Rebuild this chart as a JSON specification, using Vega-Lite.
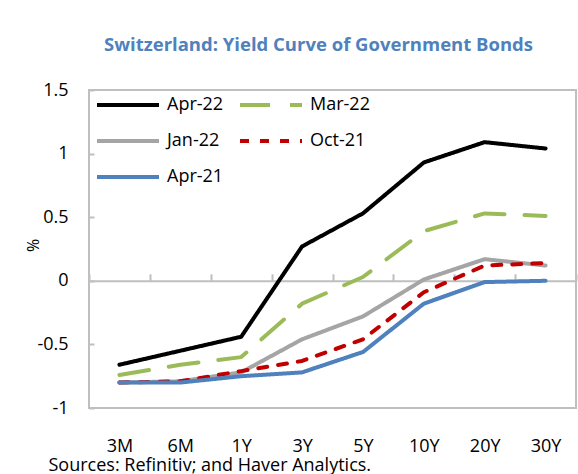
{
  "$schema": "https://vega.github.io/schema/vega-lite/v6.json",
  "width": 487,
  "height": 318,
  "autosize": {"type": "none"},
  "padding": {"left": 89, "top": 90, "right": 2, "bottom": 66},
  "background": "white",
  "title": {
    "text": "Switzerland: Yield Curve of Government Bonds",
    "color": "#4F81BD",
    "font": "Open Sans",
    "fontSize": 18.5,
    "fontWeight": "bold",
    "anchor": "middle",
    "offset": 27,
    "dx": -14
  },
  "config": {
    "view": {"stroke": "#BFBFBF", "strokeWidth": 2},
    "font": "Open Sans"
  },
  "data": {
    "values": [
      {"tenor": "3M", "series": "Apr-22", "yield": -0.66},
      {"tenor": "6M", "series": "Apr-22", "yield": -0.55},
      {"tenor": "1Y", "series": "Apr-22", "yield": -0.44},
      {"tenor": "3Y", "series": "Apr-22", "yield": 0.27},
      {"tenor": "5Y", "series": "Apr-22", "yield": 0.53},
      {"tenor": "10Y", "series": "Apr-22", "yield": 0.93},
      {"tenor": "20Y", "series": "Apr-22", "yield": 1.09},
      {"tenor": "30Y", "series": "Apr-22", "yield": 1.04},
      {"tenor": "3M", "series": "Mar-22", "yield": -0.74},
      {"tenor": "6M", "series": "Mar-22", "yield": -0.66},
      {"tenor": "1Y", "series": "Mar-22", "yield": -0.6},
      {"tenor": "3Y", "series": "Mar-22", "yield": -0.18},
      {"tenor": "5Y", "series": "Mar-22", "yield": 0.03},
      {"tenor": "10Y", "series": "Mar-22", "yield": 0.39},
      {"tenor": "20Y", "series": "Mar-22", "yield": 0.53},
      {"tenor": "30Y", "series": "Mar-22", "yield": 0.51},
      {"tenor": "3M", "series": "Jan-22", "yield": -0.8},
      {"tenor": "6M", "series": "Jan-22", "yield": -0.79},
      {"tenor": "1Y", "series": "Jan-22", "yield": -0.72},
      {"tenor": "3Y", "series": "Jan-22", "yield": -0.46},
      {"tenor": "5Y", "series": "Jan-22", "yield": -0.28},
      {"tenor": "10Y", "series": "Jan-22", "yield": 0.01},
      {"tenor": "20Y", "series": "Jan-22", "yield": 0.17},
      {"tenor": "30Y", "series": "Jan-22", "yield": 0.12},
      {"tenor": "3M", "series": "Oct-21", "yield": -0.8},
      {"tenor": "6M", "series": "Oct-21", "yield": -0.79},
      {"tenor": "1Y", "series": "Oct-21", "yield": -0.71},
      {"tenor": "3Y", "series": "Oct-21", "yield": -0.63},
      {"tenor": "5Y", "series": "Oct-21", "yield": -0.46},
      {"tenor": "10Y", "series": "Oct-21", "yield": -0.09},
      {"tenor": "20Y", "series": "Oct-21", "yield": 0.12},
      {"tenor": "30Y", "series": "Oct-21", "yield": 0.14},
      {"tenor": "3M", "series": "Apr-21", "yield": -0.8},
      {"tenor": "6M", "series": "Apr-21", "yield": -0.8},
      {"tenor": "1Y", "series": "Apr-21", "yield": -0.75},
      {"tenor": "3Y", "series": "Apr-21", "yield": -0.72},
      {"tenor": "5Y", "series": "Apr-21", "yield": -0.56},
      {"tenor": "10Y", "series": "Apr-21", "yield": -0.18},
      {"tenor": "20Y", "series": "Apr-21", "yield": -0.01},
      {"tenor": "30Y", "series": "Apr-21", "yield": 0.0}
    ]
  },
  "mark": {"type": "line", "strokeWidth": 4, "strokeCap": "round", "strokeJoin": "round"},
  "encoding": {
    "x": {
      "field": "tenor",
      "type": "ordinal",
      "sort": ["3M", "6M", "1Y", "3Y", "5Y", "10Y", "20Y", "30Y"],
      "scale": {"type": "band", "paddingInner": 0, "paddingOuter": 0},
      "axis": {
        "orient": "bottom",
        "offset": -127.2,
        "domainColor": "#BFBFBF",
        "domainWidth": 2,
        "tickColor": "#BFBFBF",
        "tickWidth": 2,
        "tickSize": -7,
        "tickBand": "extent",
        "labelAngle": 0,
        "labelFontSize": 18,
        "labelColor": "#000000",
        "labelPadding": 164,
        "title": "Sources: Refinitiv; and Haver Analytics.",
        "titleFontSize": 18,
        "titleFontWeight": "normal",
        "titleColor": "#000000",
        "titleAnchor": "start",
        "titleAlign": "left",
        "titleBaseline": "middle",
        "titleX": -41,
        "titleY": 185
      }
    },
    "y": {
      "field": "yield",
      "type": "quantitative",
      "scale": {"domain": [-1, 1.5], "nice": false, "zero": false},
      "axis": {
        "values": [-1, -0.5, 0, 0.5, 1, 1.5],
        "labelExpr": "'' + datum.value",
        "grid": false,
        "domain": false,
        "tickColor": "#BFBFBF",
        "tickWidth": 2,
        "tickSize": -5,
        "labelFontSize": 18,
        "labelColor": "#000000",
        "labelPadding": 26,
        "title": "%",
        "titleFontSize": 16,
        "titleFontWeight": "normal",
        "titleColor": "#000000",
        "titleX": -56,
        "titleY": 155,
        "titleAlign": "center",
        "titleBaseline": "middle"
      }
    },
    "color": {
      "field": "series",
      "type": "nominal",
      "scale": {
        "domain": ["Apr-22", "Mar-22", "Jan-22", "Oct-21", "Apr-21"],
        "range": ["#000000", "#9BBB59", "#A5A5A5", "#C00000", "#4F81BD"]
      },
      "legend": {
        "title": null,
        "orient": "none",
        "direction": "horizontal",
        "legendX": 6,
        "legendY": 6,
        "columns": 2,
        "columnPadding": 14,
        "rowPadding": 18,
        "clipHeight": 18,
        "symbolType": "stroke",
        "symbolSize": 3844,
        "symbolStrokeWidth": 4,
        "labelFontSize": 18,
        "labelColor": "#000000",
        "labelOffset": 6,
        "fillColor": "white"
      }
    },
    "strokeDash": {
      "field": "series",
      "type": "nominal",
      "scale": {
        "domain": ["Apr-22", "Mar-22", "Jan-22", "Oct-21", "Apr-21"],
        "range": [[1, 0], [30, 20], [1, 0], [9, 11], [1, 0]]
      },
      "legend": {
        "title": null,
        "orient": "none",
        "direction": "horizontal",
        "legendX": 6,
        "legendY": 6,
        "columns": 2,
        "columnPadding": 14,
        "rowPadding": 18,
        "clipHeight": 18,
        "symbolType": "stroke",
        "symbolSize": 3844,
        "symbolStrokeWidth": 4,
        "labelFontSize": 18,
        "labelColor": "#000000",
        "labelOffset": 6,
        "fillColor": "white"
      }
    }
  }
}
